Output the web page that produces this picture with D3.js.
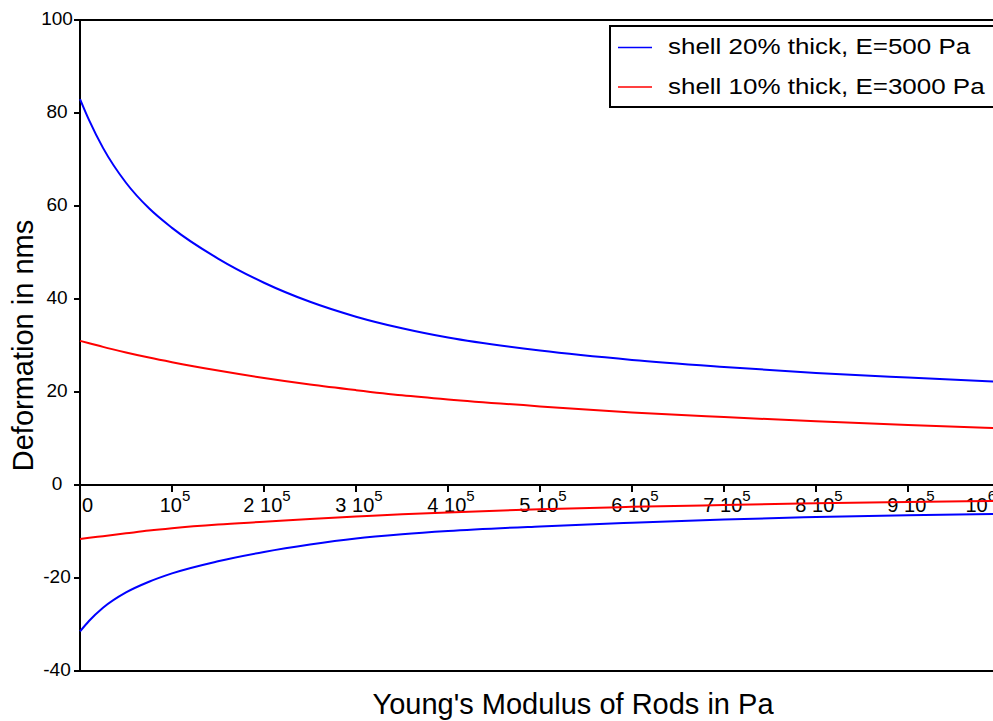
<!DOCTYPE html>
<html>
<head>
<meta charset="utf-8">
<script src="https://cdn.jsdelivr.net/npm/d3@7"></script>
<style>
  body { margin: 0; background: #fff; }
  svg { display: block; font-family: "Liberation Sans", Arial, Helvetica, sans-serif; }
</style>
</head>
<body>
<svg id="chart" width="993" height="721"></svg>
<script>
// Young's modulus of the rods (Pa), sample positions
const modulus = [0, 10000, 25000, 50000, 75000, 100000, 150000, 200000, 250000, 300000,
                 350000, 400000, 500000, 600000, 700000, 800000, 900000, 1000000];

// Shell 20% thick, E = 500 Pa (outward and inward deformation, nm)
const thick20Upper = [83, 78.4, 72.5, 65, 59.5, 55.3, 48.7, 43.5, 39.4, 36.2, 33.7, 31.7, 28.9, 26.9, 25.4, 24.1, 23.1, 22.2];
const thick20Lower = [-31.5, -29.2, -26.4, -23.1, -20.8, -19, -16.4, -14.4, -12.8, -11.5, -10.6, -9.9, -8.9, -8.1, -7.4, -6.9, -6.5, -6.2];

// Shell 10% thick, E = 3000 Pa
const thick10Upper = [31, 30.5, 29.7, 28.5, 27.4, 26.4, 24.6, 23, 21.6, 20.4, 19.3, 18.4, 16.9, 15.6, 14.6, 13.7, 12.9, 12.2];
const thick10Lower = [-11.6, -11.35, -11, -10.4, -9.8, -9.3, -8.5, -7.9, -7.3, -6.8, -6.3, -5.9, -5.2, -4.7, -4.3, -3.95, -3.65, -3.4];

const seriesNames = ["shell 20% thick, E=500 Pa", "shell 10% thick, E=3000 Pa"];
const seriesColors = ["#0000ff", "#ff0000"];

const yTicks = [-40, -20, 0, 20, 40, 60, 80, 100];
const xTicks = [0, 100000, 200000, 300000, 400000, 500000, 600000, 700000, 800000, 900000, 1000000];
const xTickLabels = ["0", "10^5", "2 10^5", "3 10^5", "4 10^5", "5 10^5", "6 10^5", "7 10^5", "8 10^5", "9 10^5", "10^6"];

const xTitle = "Young's Modulus of Rods in Pa";
const yTitle = "Deformation in nms";

const svg = d3.select("#chart");
const plotLeft = 80, plotRight = 1000, plotTop = 20, plotBottom = 671;

const x = d3.scaleLinear().domain([0, 1000000]).range([plotLeft, plotRight]);
const y = d3.scaleLinear().domain([-40, 100]).range([plotBottom, plotTop]);

// Frame: left, top and bottom edges
svg.append("g")
  .attr("stroke", "#000").attr("stroke-width", 2).attr("fill", "none")
  .selectAll("line")
  .data([[plotLeft, plotTop, plotLeft, plotBottom],
         [plotLeft - 1, plotTop, plotRight, plotTop],
         [plotLeft - 1, plotBottom, plotRight, plotBottom]])
  .join("line")
  .attr("x1", d => d[0]).attr("y1", d => d[1])
  .attr("x2", d => d[2]).attr("y2", d => d[3]);

// Left axis ticks and labels
const yAxis = svg.append("g");
yAxis.selectAll("line.tick")
  .data(yTicks)
  .join("line")
  .attr("class", "tick")
  .attr("x1", plotLeft - 6).attr("x2", plotLeft)
  .attr("y1", d => y(d)).attr("y2", d => y(d))
  .attr("stroke", "#000").attr("stroke-width", 2);
yAxis.selectAll("text")
  .data(yTicks)
  .join("text")
  .attr("x", 57)
  .attr("y", d => y(d) - 1.5)
  .attr("text-anchor", "middle")
  .attr("dominant-baseline", "central")
  .attr("font-size", 19)
  .attr("fill", "#000")
  .text(d => d);

// Horizontal axis through zero
const xAxis = svg.append("g");
xAxis.append("line")
  .attr("x1", plotLeft - 6).attr("x2", plotRight)
  .attr("y1", y(0)).attr("y2", y(0))
  .attr("stroke", "#000").attr("stroke-width", 2);
xAxis.selectAll("line.tick")
  .data(xTicks)
  .join("line")
  .attr("class", "tick")
  .attr("x1", d => x(d)).attr("x2", d => x(d))
  .attr("y1", y(0)).attr("y2", y(0) + 7)
  .attr("stroke", "#000").attr("stroke-width", 2);

const labels = xAxis.selectAll("text")
  .data(xTicks)
  .join("text")
  .attr("y", y(0) + 27)
  .attr("text-anchor", "middle")
  .attr("font-size", 20)
  .attr("fill", "#000");
labels.each(function (d, i) {
  const parts = xTickLabels[i].split("^");
  const t = d3.select(this);
  t.append("tspan").text(parts[0]);
  if (parts.length > 1) {
    t.append("tspan").attr("dy", -11).attr("font-size", 15).text(parts[1]);
  }
  const w = this.getComputedTextLength();
  let cx = x(d) + 3;
  if (cx - w / 2 < plotLeft + 2) cx = plotLeft + 2 + w / 2;
  if (cx + w / 2 > plotRight - 4) cx = plotRight - 4 - w / 2;
  t.attr("x", cx);
});

// Curves
const line = d3.line()
  .x((d, i) => x(modulus[i]))
  .y(d => y(d))
  .curve(d3.curveMonotoneX);

const curves = [
  { values: thick20Upper, color: seriesColors[0] },
  { values: thick20Lower, color: seriesColors[0] },
  { values: thick10Upper, color: seriesColors[1] },
  { values: thick10Lower, color: seriesColors[1] }
];
svg.append("g").selectAll("path")
  .data(curves)
  .join("path")
  .attr("d", d => line(d.values))
  .attr("fill", "none")
  .attr("stroke", d => d.color)
  .attr("stroke-width", 2);

// Axis titles
svg.append("text")
  .attr("x", 573).attr("y", 714)
  .attr("text-anchor", "middle")
  .attr("font-size", 29)
  .attr("fill", "#000")
  .text(xTitle);

svg.append("text")
  .attr("transform", `translate(33, ${(plotTop + plotBottom) / 2}) rotate(-90)`)
  .attr("text-anchor", "middle")
  .attr("font-size", 29)
  .attr("fill", "#000")
  .text(yTitle);

// Legend
const legend = svg.append("g");
legend.append("rect")
  .attr("x", 610).attr("y", 26)
  .attr("width", 400).attr("height", 81)
  .attr("fill", "#fff")
  .attr("stroke", "#000").attr("stroke-width", 2);
const rows = legend.selectAll("g.row")
  .data(seriesNames)
  .join("g")
  .attr("class", "row")
  .attr("transform", (d, i) => `translate(0, ${i * 39.5})`);
rows.append("line")
  .attr("x1", 618).attr("x2", 652)
  .attr("y1", 47.5).attr("y2", 47.5)
  .attr("stroke", (d, i) => seriesColors[i])
  .attr("stroke-width", 1.6);
rows.append("text")
  .attr("transform", "translate(668, 54) scale(1.18, 1)")
  .attr("font-size", 22)
  .attr("fill", "#000")
  .text(d => d);
</script>
</body>
</html>
